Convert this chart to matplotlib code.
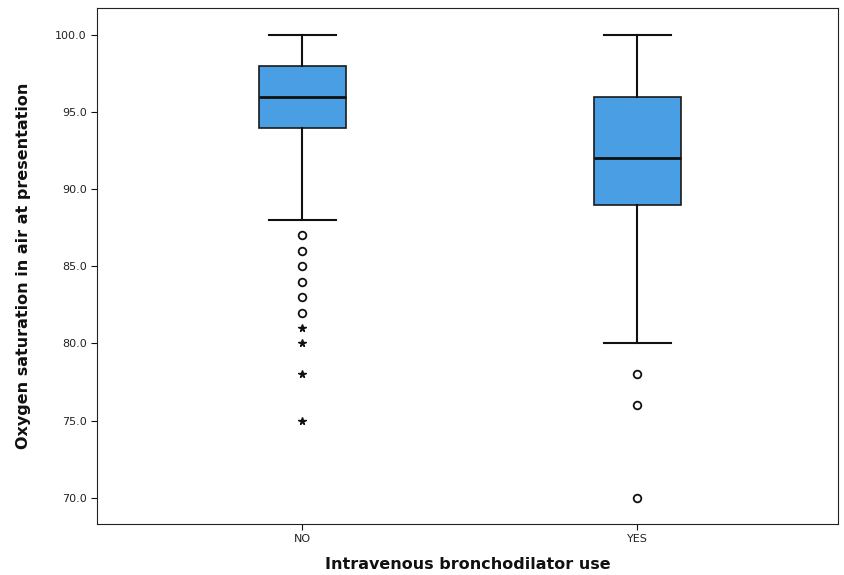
import matplotlib
matplotlib.use('Agg')
import matplotlib.pyplot as plt

groups = ['NO', 'YES']
whislo = [88.0, 80.0]
q1 = [94.0, 89.0]
med = [96.0, 92.0]
q3 = [98.0, 96.0]
whishi = [100.0, 100.0]
# outliers (circles) and extremes (stars)
outliers = [[87, 86, 85, 84, 83, 82], [78, 76, 70]]
extremes = [[81, 80, 78, 75], []]

stats = []
for i, g in enumerate(groups):
    stats.append(dict(label=g, whislo=whislo[i], q1=q1[i], med=med[i],
                      q3=q3[i], whishi=whishi[i], fliers=outliers[i]))

fig = plt.figure(figsize=(8.44, 5.75), dpi=100)
ax = fig.add_axes([0.115, 0.089, 0.878, 0.897])

pos = list(range(len(groups)))
ax.bxp(stats, positions=pos, widths=0.26, patch_artist=True,
       boxprops=dict(facecolor='#4a9ee3', edgecolor='#1a1a1a', linewidth=1.2),
       medianprops=dict(color='#111111', linewidth=2),
       whiskerprops=dict(color='#111111', linewidth=1.5),
       capprops=dict(color='#111111', linewidth=1.5),
       capwidths=0.2,
       flierprops=dict(marker='o', markerfacecolor='white', markeredgecolor='#111111',
                       markersize=5.5, markeredgewidth=1.3))

for i, ex in enumerate(extremes):
    if ex:
        ax.plot([pos[i]] * len(ex), ex, linestyle='none', marker='*',
                color='#111111', markersize=5.5)

ax.set_xlim(-0.612, 1.6)
ax.set_ylim(68.3, 101.75)
ax.set_yticks([70, 75, 80, 85, 90, 95, 100])
ax.set_yticklabels(['%.1f' % v for v in [70, 75, 80, 85, 90, 95, 100]])
ax.set_xticks(pos)
ax.set_xticklabels(groups)
ax.tick_params(labelsize=8, length=4, color='#111111', labelcolor='#222222')
ax.set_ylabel('Oxygen saturation in air at presentation', fontsize=11.5,
              fontweight='bold', color='#111111', labelpad=17)
ax.set_xlabel('Intravenous bronchodilator use', fontsize=11.5,
              fontweight='bold', color='#111111', labelpad=9)
for s in ax.spines.values():
    s.set_color('#222222')

fig.savefig('out.png', dpi=100)
